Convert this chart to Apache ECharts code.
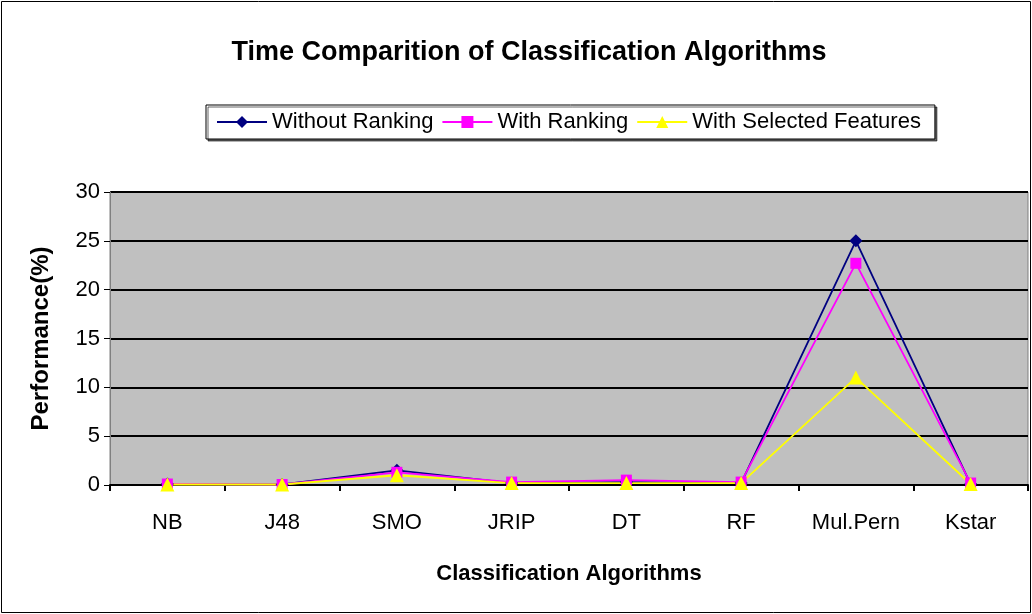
<!DOCTYPE html>
<html>
<head>
<meta charset="utf-8">
<script src="https://cdn.jsdelivr.net/npm/echarts@6/dist/echarts.min.js"></script>
<style>
  html, body { margin: 0; padding: 0; background: #fff; }
  #chart { width: 1032px; height: 614px; }
</style>
</head>
<body>
<div id="chart"></div>
<script>
var categories = ["NB", "J48", "SMO", "JRIP", "DT", "RF", "Mul.Pern", "Kstar"];
var withoutRanking = [0.1, 0.05, 1.5, 0.2, 0.3, 0.2, 25, 0.1];
var withRanking = [0.1, 0.05, 1.3, 0.3, 0.5, 0.3, 22.7, 0.2];
var withSelected = [0.05, 0.05, 1.0, 0.2, 0.2, 0.2, 11, 0.1];

var font = "Liberation Sans, Arial, sans-serif";
var myChart = echarts.init(document.getElementById("chart"));

function lineSeries(name, data, color, symbol, size) {
  return {
    name: name,
    type: "line",
    data: data,
    symbol: symbol,
    symbolSize: size,
    showAllSymbol: true,
    lineStyle: { color: color, width: 1.8 },
    itemStyle: { color: color },
    emphasis: { disabled: true }
  };
}

myChart.setOption({
  animation: false,
  backgroundColor: "#fff",
  title: {
    text: "Time Comparition of Classification Algorithms",
    left: 524,
    top: 34,
    textAlign: "center",
    textStyle: { fontFamily: font, fontSize: 27, fontWeight: "bold", color: "#000" }
  },
  legend: {
    data: ["Without Ranking", "With Ranking", "With Selected Features"],
    left: 206,
    top: 105,
    padding: [6, 14, 6, 10],
    itemGap: 8,
    itemWidth: 50,
    itemHeight: 15,
    borderColor: "#000",
    borderWidth: 1,
    shadowColor: "rgba(0,0,0,0.6)",
    shadowOffsetX: 2,
    shadowOffsetY: 2,
    backgroundColor: "#fff",
    textStyle: { fontFamily: font, fontSize: 22, color: "#000" }
  },
  graphic: [{
    type: "rect",
    shape: { x: 1.5, y: 1.5, width: 1029, height: 611 },
    style: { fill: "none", stroke: "#000", lineWidth: 1 },
    silent: true
  }],
  grid: {
    left: 110,
    right: 4,
    top: 192,
    bottom: 129,
    show: true,
    backgroundColor: "#c0c0c0",
    borderColor: "#808080",
    borderWidth: 1
  },
  xAxis: {
    type: "category",
    data: categories,
    boundaryGap: true,
    name: "Classification Algorithms",
    nameLocation: "middle",
    nameGap: 78,
    nameTextStyle: { fontFamily: font, fontSize: 22, fontWeight: "bold", color: "#000" },
    axisLine: { lineStyle: { color: "#000", width: 2 } },
    axisTick: { show: true, length: 6, lineStyle: { color: "#000", width: 2 } },
    axisLabel: { fontFamily: font, fontSize: 22, color: "#000", margin: 27 },
    z: 3
  },
  yAxis: {
    type: "value",
    min: 0,
    max: 30,
    interval: 5,
    name: "Performance(%)",
    nameLocation: "middle",
    nameGap: 57,
    nameTextStyle: { fontFamily: font, fontSize: 24, fontWeight: "bold", color: "#000" },
    axisLine: { show: true, lineStyle: { color: "#808080", width: 1 } },
    axisTick: { show: true, length: 6, lineStyle: { color: "#000" } },
    axisLabel: { fontFamily: font, fontSize: 22, color: "#000", margin: 10 },
    splitLine: { show: true, lineStyle: { color: "#000", width: 2 } }
  },
  series: [
    lineSeries("Without Ranking", withoutRanking, "#000080", "diamond", 13),
    lineSeries("With Ranking", withRanking, "#ff00ff", "rect", 11),
    lineSeries("With Selected Features", withSelected, "#ffff00", "triangle", 14)
  ]
});
</script>
</body>
</html>
